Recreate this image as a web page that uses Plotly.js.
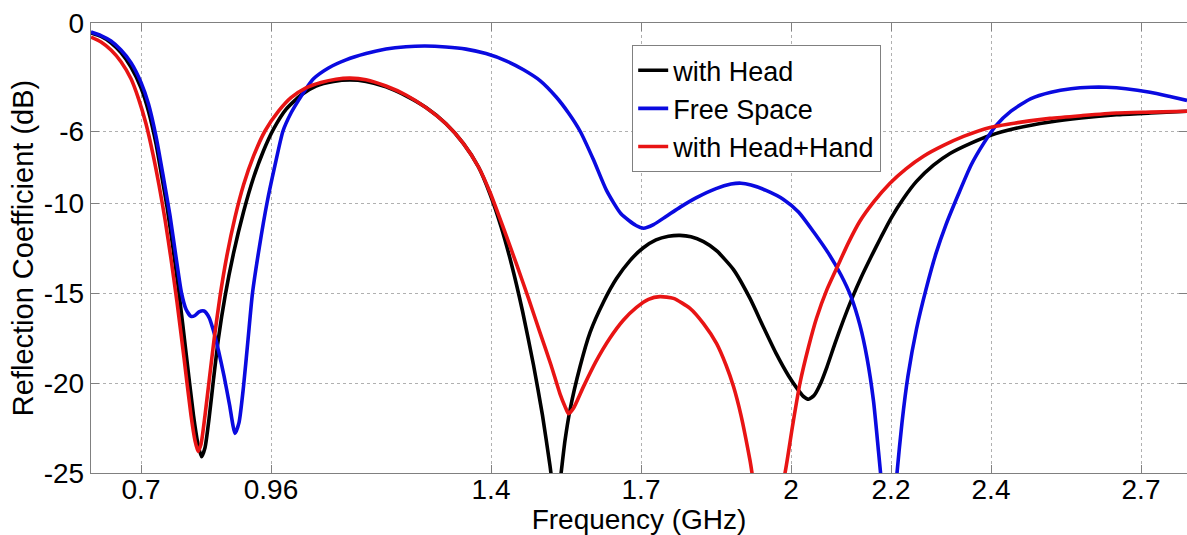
<!DOCTYPE html>
<html>
<head>
<meta charset="utf-8">
<script src="https://cdn.plot.ly/plotly-3.0.1.min.js"></script>
<style>
html,body{margin:0;padding:0;background:#fff;}
#chart{width:1187px;height:535px;}
</style>
</head>
<body>
<div id="chart"></div>
<script>
// Frequency (GHz) and reflection coefficient (dB)
const headFreq = [0.6,0.62,0.64,0.66,0.68,0.70,0.715,0.73,0.742,0.752,0.764,0.776,0.79,0.805,0.814,0.821,0.828,0.836,0.845,0.855,0.868,0.885,0.905,0.925,0.945,0.965,0.99,1.02,1.05,1.085,1.118,1.15,1.19,1.23,1.27,1.31,1.345,1.375,1.398,1.42,1.441,1.463,1.485,1.503,1.518,1.53,1.538,1.548,1.558,1.578,1.598,1.625,1.651,1.678,1.704,1.73,1.755,1.778,1.80,1.825,1.851,1.885,1.918,1.945,1.971,1.995,2.012,2.025,2.035,2.046,2.058,2.072,2.088,2.105,2.122,2.14,2.16,2.18,2.2,2.225,2.251,2.285,2.318,2.358,2.398,2.45,2.518,2.58,2.651,2.72,2.792];
const headS11  = [-0.55,-0.75,-1.1,-1.65,-2.45,-3.6,-4.9,-6.7,-8.6,-10.2,-12.5,-15,-18.3,-21.8,-23.4,-24.1,-23.6,-22,-19.8,-17.5,-15.2,-12.8,-10.5,-8.6,-7.1,-5.9,-4.8,-4.0,-3.5,-3.25,-3.17,-3.25,-3.55,-4.05,-4.7,-5.6,-6.7,-8.0,-9.5,-11.3,-13.4,-16.0,-19.0,-21.8,-24.6,-27,-25.5,-23.2,-21.5,-19.1,-17.2,-15.5,-14.2,-13.2,-12.5,-12.05,-11.85,-11.8,-11.88,-12.15,-12.65,-13.7,-15.3,-16.9,-18.4,-19.6,-20.3,-20.75,-20.9,-20.7,-20.1,-19.1,-17.8,-16.5,-15.3,-14.15,-13.0,-11.9,-10.85,-9.75,-8.8,-7.9,-7.25,-6.7,-6.25,-5.85,-5.5,-5.28,-5.1,-5.0,-4.9];

const freeFreq = [0.6,0.62,0.64,0.66,0.68,0.70,0.715,0.73,0.745,0.758,0.77,0.781,0.79,0.8,0.808,0.816,0.826,0.836,0.845,0.855,0.866,0.877,0.888,0.896,0.905,0.914,0.923,0.937,0.952,0.968,0.984,1.0,1.015,1.03,1.045,1.075,1.11,1.15,1.19,1.23,1.268,1.31,1.35,1.39,1.43,1.465,1.498,1.53,1.555,1.578,1.605,1.631,1.66,1.69,1.705,1.725,1.75,1.78,1.811,1.85,1.88,1.9,1.92,1.95,1.985,2.015,2.045,2.075,2.1,2.12,2.138,2.152,2.165,2.175,2.186,2.195,2.204,2.212,2.222,2.234,2.251,2.27,2.29,2.31,2.335,2.36,2.385,2.41,2.44,2.48,2.52,2.56,2.6,2.631,2.67,2.718,2.76,2.792];
const freeS11  = [-0.5,-0.7,-1.0,-1.5,-2.2,-3.3,-4.5,-6.3,-8.6,-10.7,-13.0,-15.0,-15.9,-16.3,-16.25,-16.05,-16.0,-16.35,-17.1,-18.2,-19.6,-21.2,-22.8,-22.2,-20.2,-17.6,-15.0,-12.4,-10.0,-7.9,-6.0,-5.0,-4.3,-3.65,-3.1,-2.5,-2.05,-1.7,-1.45,-1.32,-1.28,-1.33,-1.45,-1.7,-2.1,-2.6,-3.2,-4.1,-5.0,-6.0,-7.6,-9.3,-10.6,-11.25,-11.4,-11.2,-10.75,-10.2,-9.7,-9.2,-8.95,-8.9,-9.0,-9.3,-9.8,-10.5,-11.6,-12.8,-14.0,-15.2,-16.8,-18.6,-21.0,-23.8,-27,-29.5,-28,-25,-22.2,-19.6,-17.0,-14.8,-12.8,-11.2,-9.5,-7.9,-6.7,-5.7,-4.9,-4.2,-3.85,-3.65,-3.57,-3.57,-3.65,-3.85,-4.1,-4.3];

const handFreq = [0.6,0.62,0.64,0.66,0.68,0.695,0.71,0.724,0.736,0.748,0.76,0.772,0.786,0.8,0.808,0.814,0.82,0.828,0.837,0.847,0.858,0.872,0.888,0.905,0.925,0.948,0.975,1.0,1.03,1.06,1.09,1.118,1.15,1.19,1.23,1.27,1.31,1.345,1.375,1.398,1.425,1.451,1.475,1.498,1.52,1.538,1.548,1.555,1.565,1.585,1.61,1.638,1.665,1.691,1.715,1.738,1.765,1.798,1.825,1.851,1.87,1.885,1.9,1.918,1.935,1.96,1.988,2.003,2.018,2.035,2.051,2.072,2.095,2.115,2.138,2.165,2.198,2.23,2.265,2.305,2.345,2.398,2.45,2.518,2.58,2.651,2.72,2.792];
const handS11  = [-0.78,-1.05,-1.5,-2.15,-3.1,-4.2,-5.6,-7.3,-9.0,-10.9,-13.1,-15.5,-18.6,-21.8,-23.2,-23.8,-23.4,-21.8,-19.7,-17.4,-15.2,-12.9,-10.8,-9.0,-7.4,-6.0,-4.9,-4.15,-3.6,-3.3,-3.12,-3.06,-3.15,-3.5,-4.0,-4.7,-5.6,-6.7,-8.0,-9.4,-11.4,-13.4,-15.3,-17.2,-19.0,-20.6,-21.3,-21.7,-21.4,-20.2,-18.8,-17.5,-16.5,-15.8,-15.35,-15.2,-15.3,-15.85,-16.7,-17.8,-19.0,-20.2,-21.8,-24.3,-27,-28.2,-25,-22.4,-20.0,-18.0,-16.4,-14.8,-13.4,-12.2,-11.0,-9.95,-8.9,-8.1,-7.4,-6.8,-6.3,-5.8,-5.55,-5.3,-5.15,-5.0,-4.95,-4.9];

const seriesNames = ['with Head','Free Space','with Head+Hand'];
const xTicks = [0.7,0.96,1.4,1.7,2,2.2,2.4,2.7];
const yTicks = [0,-6,-10,-15,-20,-25];

const FONT = 'Liberation Sans, Arial, sans-serif';
const lw = 3.6;
const traces = [
  {x: headFreq, y: headS11, name: seriesNames[0], mode: 'lines', line: {color: '#000000', width: lw, shape: 'spline', smoothing: 0.6}},
  {x: freeFreq, y: freeS11, name: seriesNames[1], mode: 'lines', line: {color: '#0a0ae0', width: lw, shape: 'spline', smoothing: 0.6}},
  {x: handFreq, y: handS11, name: seriesNames[2], mode: 'lines', line: {color: '#e81414', width: lw, shape: 'spline', smoothing: 0.6}}
];

const axisCommon = {
  showline: true, mirror: 'ticks', linecolor: '#808080', linewidth: 1.2,
  ticks: 'inside', ticklen: 8, tickcolor: '#808080', tickwidth: 1,
  showgrid: true, gridcolor: '#b0b0b0', griddash: 'dot', gridwidth: 1,
  zeroline: false
};

const layout = {
  width: 1187, height: 535,
  margin: {l: 91, r: 0, t: 23, b: 62},
  paper_bgcolor: '#fff', plot_bgcolor: '#fff',
  showlegend: true,
  legend: {
    x: 0.4936, y: 0.951, xanchor: 'left', yanchor: 'top',
    bgcolor: '#fff', bordercolor: '#808080', borderwidth: 1.2,
    font: {family: FONT, size: 27, color: '#000'},
    tracegroupgap: 0
  },
  xaxis: Object.assign({}, axisCommon, {
    range: [0.6, 2.792], tickvals: xTicks, ticktext: xTicks.map(String),
    tickfont: {family: FONT, size: 28, color: '#000'},
    ticklabelstandoff: -9,
    title: {text: 'Frequency (GHz)', font: {family: FONT, size: 28, color: '#000'}, standoff: 11}
  }),
  yaxis: Object.assign({}, axisCommon, {
    range: [-25, 0], tickvals: yTicks, ticktext: yTicks.map(String),
    tickfont: {family: FONT, size: 28, color: '#000'},
    ticklabelstandoff: 0,
    title: {text: 'Reflection Coefficient (dB)', font: {family: FONT, size: 29, color: '#000'}, standoff: 1}
  })
};

Plotly.newPlot('chart', traces, layout, {displayModeBar: false, staticPlot: true});
</script>
</body>
</html>
